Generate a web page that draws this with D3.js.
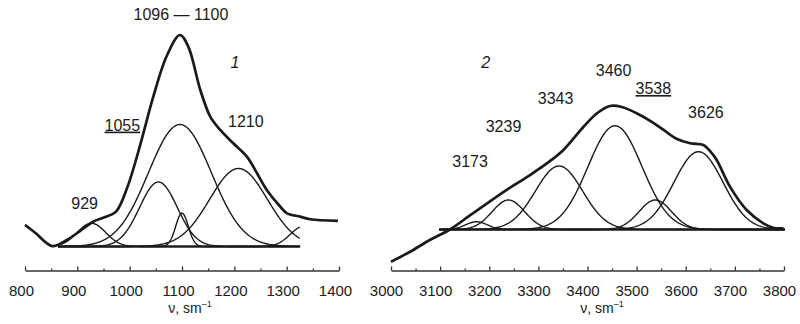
<!DOCTYPE html>
<html lang="en">
<head>
<meta charset="utf-8">
<script src="https://d3js.org/d3.v7.min.js"></script>
<style>
  body { margin: 0; background: #fff; }
  text { font-family: "Liberation Sans", Arial, sans-serif; fill: #1a1a1a; }
</style>
</head>
<body>
<div id="chart"></div>
<script>
// ---- panel 1 : 800-1400 sm-1 ----
var waveL  = [800, 820, 852, 880, 905, 930, 952, 974, 996, 1021, 1045, 1071, 1096, 1112, 1135, 1154, 1173, 1198, 1224, 1262, 1288, 1300, 1326, 1345, 1398];
var totalL = [10.2, 6.4, 0.2, 3.1, 7.3, 11.7, 13.8, 16.5, 28.3, 48.8, 70.7, 90.2, 100, 94.5, 74, 61.4, 55.1, 48.8, 42.5, 26.7, 18.8, 15.8, 14.1, 12.9, 12.1];
// fitted bands: centre, height, width (sigma)
var bandCentreL = [927, 1055, 1096, 1100, 1208, 1332];
var bandHeightL = [11.0, 30.5, 57.7, 15.8, 36.9, 9.5];
var bandSigmaL  = [27, 36, 60, 12, 55, 25];
var fitRangeL = [863, 1326];
var ticksL = [800, 900, 1000, 1100, 1200, 1300, 1400];
var labelTextL = ["1096 \u2014 1100", "1", "1055", "1210", "929"];
var labelWaveL = [1098, 1201, 986, 1222, 914];
var labelLevelL = [107.1, 84.3, 54.8, 56.6, 17.7];

// ---- panel 2 : 3000-3800 sm-1 ----
var waveR  = [3000, 3040, 3079, 3120, 3160, 3200, 3240, 3283, 3320, 3351, 3392, 3420, 3446, 3470, 3500, 3530, 3555, 3580, 3609, 3636, 3650, 3663, 3690, 3724, 3758, 3780, 3799];
var totalR = [-26.1, -17.8, -8.5, 0, 11.2, 22.3, 33.2, 44.1, 54.3, 64.4, 83.2, 94.3, 100, 99.2, 94.1, 87.4, 80.6, 73.7, 69.8, 68.4, 63.2, 56.3, 34.7, 15.8, 5.0, 1.2, 1.0];
var bandCentreR = [3174, 3239, 3342, 3456, 3538, 3626];
var bandHeightR = [6.3, 23.9, 51.4, 84.0, 23.9, 63.0];
var bandSigmaR  = [22, 33, 48, 55, 33, 50];
var fitRangeR = [3098, 3802];
var ticksR = [3000, 3100, 3200, 3300, 3400, 3500, 3600, 3700, 3800];
var labelTextR = ["2", "3460", "3538", "3343", "3626", "3239", "3173"];
var labelWaveR = [3193, 3453, 3534, 3335, 3641, 3229, 3161];
var labelLevelR = [130.5, 124.3, 109.7, 101.6, 90, 79.2, 50.9];

var underlined = ["1055", "3538"];
var italic = ["1", "2"];

var width = 800, height = 324, axisY = 270.5;
var ink = "#1a1a1a";

var svg = d3.select("#chart").append("svg")
  .attr("width", width)
  .attr("height", height);

function drawPanel(o) {
  var x = d3.scaleLinear().domain(o.domain).range(o.xRange);
  var y = d3.scaleLinear().domain([0, 100]).range(o.yRange);
  var g = svg.append("g");

  var line = d3.line()
    .x(function (d) { return x(d[0]); })
    .y(function (d) { return y(d[1]); });

  // fitted gaussian bands
  o.centre.forEach(function (c, i) {
    var pts = d3.range(o.fit[0], o.fit[1] + 0.1, 2).map(function (v) {
      return [v, o.height[i] * Math.exp(-(v - c) * (v - c) / (2 * o.sigma[i] * o.sigma[i]))];
    });
    g.append("path")
      .attr("d", line.curve(d3.curveLinear)(pts))
      .attr("fill", "none")
      .attr("stroke", ink)
      .attr("stroke-width", 1.4);
  });

  // baseline
  g.append("path")
    .attr("d", line.curve(d3.curveLinear)([[o.fit[0], 0], [o.fit[1], 0]]))
    .attr("stroke", ink)
    .attr("stroke-width", 1.8);

  // measured spectrum
  g.append("path")
    .attr("d", line.curve(d3.curveCatmullRom.alpha(0.5))(o.wave.map(function (v, i) { return [v, o.total[i]]; })))
    .attr("fill", "none")
    .attr("stroke", ink)
    .attr("stroke-width", 2.7)
    .attr("stroke-linejoin", "round");

  // axis: major ticks up, labels below
  var ax = g.append("g")
    .attr("transform", "translate(0," + axisY + ")")
    .call(d3.axisBottom(x).tickValues(o.ticks).tickSize(-4).tickSizeOuter(0).tickPadding(15).tickFormat(d3.format("d")));
  ax.select(".domain").attr("stroke", "#333").attr("stroke-width", 1.6);
  ax.selectAll(".tick line").attr("stroke", "#333").attr("stroke-width", 1.3);
  ax.selectAll(".tick text")
    .attr("dx", o.dx)
    .style("font-size", "15px")
    .style("font-family", '"Liberation Sans", Arial, sans-serif')
    .attr("fill", ink);

  // minor ticks
  var minor = d3.range(o.domain[0] + 50, o.domain[1], 100);
  g.append("g")
    .attr("transform", "translate(0," + axisY + ")")
    .call(d3.axisBottom(x).tickValues(minor).tickSize(-2).tickSizeOuter(0).tickFormat(""))
    .call(function (s) { s.select(".domain").remove(); })
    .selectAll(".tick line").attr("stroke", "#333").attr("stroke-width", 1.3);

  // axis title
  var t = g.append("text")
    .attr("x", o.titleX)
    .attr("y", 313)
    .attr("text-anchor", "middle")
    .style("font-size", "14px");
  t.append("tspan").text("\u03bd, sm");
  t.append("tspan").text("\u20131").attr("dy", -6).style("font-size", "9px");

  // peak labels
  o.labelText.forEach(function (s, i) {
    g.append("text")
      .attr("x", x(o.labelWave[i]))
      .attr("y", y(o.labelLevel[i]))
      .attr("text-anchor", "middle")
      .style("font-size", "16px")
      .style("font-style", italic.indexOf(s) >= 0 ? "italic" : "normal")
      .style("text-decoration", underlined.indexOf(s) >= 0 ? "underline" : "none")
      .text(s);
  });
}

drawPanel({
  domain: [800, 1400], xRange: [25, 339], yRange: [246.5, 35],
  wave: waveL, total: totalL,
  centre: bandCentreL, height: bandHeightL, sigma: bandSigmaL, fit: fitRangeL,
  ticks: ticksL, dx: -4, titleX: 190,
  labelText: labelTextL, labelWave: labelWaveL, labelLevel: labelLevelL
});

drawPanel({
  domain: [3000, 3800], xRange: [391, 784], yRange: [229.5, 106],
  wave: waveR, total: totalR,
  centre: bandCentreR, height: bandHeightR, sigma: bandSigmaR, fit: fitRangeR,
  ticks: ticksR, dx: -5, titleX: 602,
  labelText: labelTextR, labelWave: labelWaveR, labelLevel: labelLevelR
});
</script>
</body>
</html>
